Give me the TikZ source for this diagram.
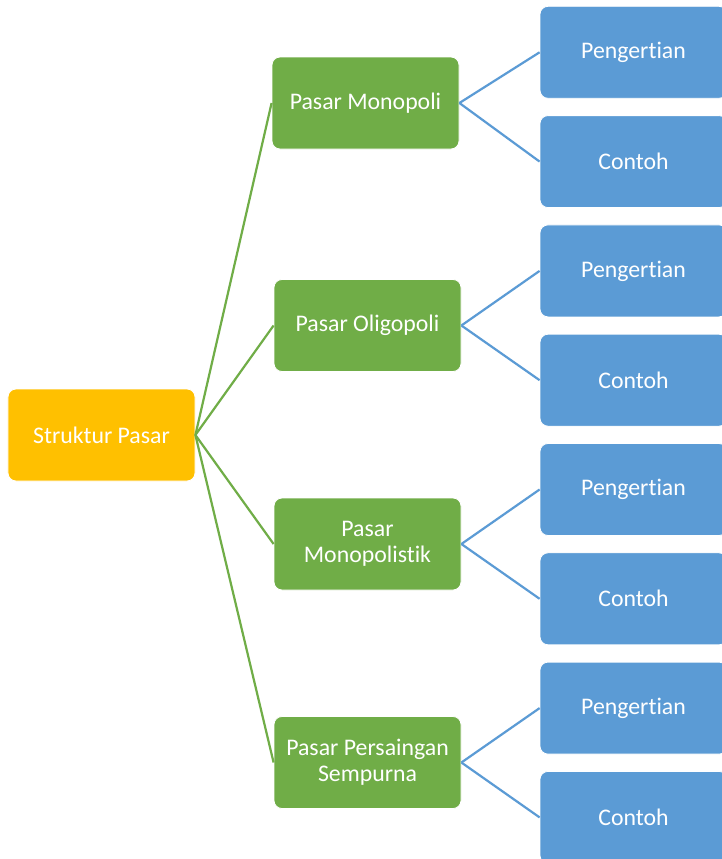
\documentclass[tikz,border=0pt]{standalone}
\usepackage{fontspec}
\setmainfont{Carlito}[RawFeature={-liga;-dlig;-clig;-calt}]
\definecolor{rootfill}{HTML}{FFC000}
\definecolor{midfill}{HTML}{70AD47}
\definecolor{leaffill}{HTML}{5B9BD5}
\tikzset{
  box/.style={rectangle, rounded corners=8bp, draw=white, line width=0.8bp,
    minimum width=187bp, minimum height=92bp, inner sep=0pt,
    text=white, align=center, font=\fontsize{23.8bp}{26bp}\selectfont},
  rootbox/.style={box, fill=rootfill},
  midbox/.style={box, fill=midfill},
  leafbox/.style={box, fill=leaffill},
  midlink/.style={draw=midfill, line width=2.2bp},
  leaflink/.style={draw=leaffill, line width=2.2bp}
}
\begin{document}
\begin{tikzpicture}[x=1bp, y=-1bp]
\clip (0,0) rectangle (722,859);
\fill[white] (0,0) rectangle (722,859);

% root
\node[rootbox] (root) at (101.5,435) {Struktur Pasar};

% market types
\node[midbox] (m1) at (365.5,103) {Pasar Monopoli};
\node[midbox] (m2) at (367.5,325.5) {Pasar Oligopoli};
\node[midbox] (m3) at (367.5,544) {Pasar\\Monopolistik};
\node[midbox] (m4) at (367.5,762.5) {Pasar Persaingan\\Sempurna};

% leaves
\node[leafbox] (p1) at (633.5,52.3) {Pengertian};
\node[leafbox] (c1) at (633.5,161.6) {Contoh};
\node[leafbox] (p2) at (633.5,270.9) {Pengertian};
\node[leafbox] (c2) at (633.5,380.2) {Contoh};
\node[leafbox] (p3) at (633.5,489.5) {Pengertian};
\node[leafbox] (c3) at (633.5,598.8) {Contoh};
\node[leafbox] (p4) at (633.5,708.1) {Pengertian};
\node[leafbox] (c4) at (633.5,817.4) {Contoh};

% links root -> market types
\foreach \m in {m1,m2,m3,m4}
  \draw[midlink] (root.east) -- (\m.west);

% links market types -> leaves
\foreach \i in {1,2,3,4} {
  \draw[leaflink] (m\i.east) -- (p\i.west);
  \draw[leaflink] (m\i.east) -- (c\i.west);
}
\end{tikzpicture}
\end{document}
